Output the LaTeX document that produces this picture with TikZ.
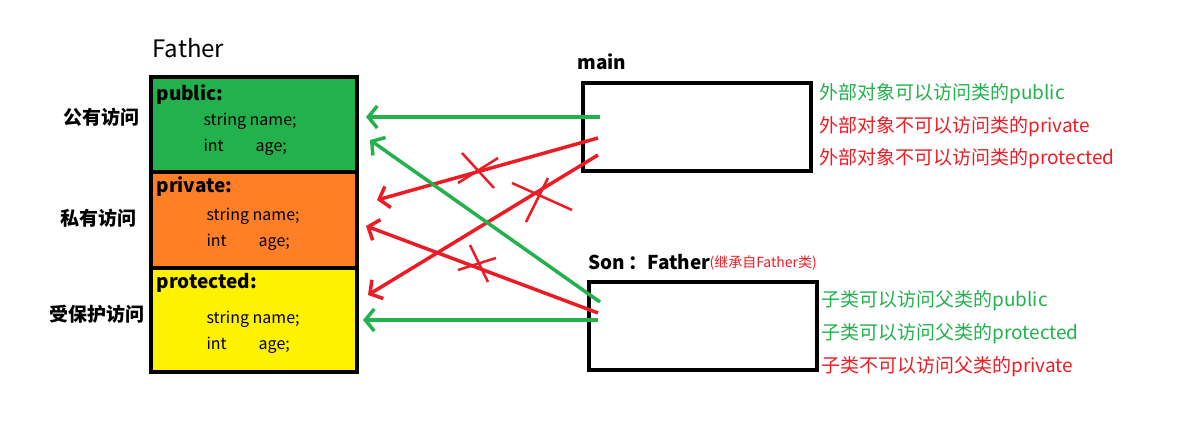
\documentclass[tikz,border=0pt]{standalone}
\usepackage{fontspec}
\setmainfont{Noto Sans CJK SC}
\usetikzlibrary{arrows.meta}
\definecolor{gr}{HTML}{22B14C}
\definecolor{rd}{HTML}{ED1C24}
\definecolor{og}{HTML}{FF7F27}
\definecolor{yl}{HTML}{FFF200}
\begin{document}
\begin{tikzpicture}[x=1pt,y=-1pt,
  arr/.style={line width=3.5pt,-{Straight Barb[length=9pt,width=22pt,line width=3.5pt]}},
  xs/.style={line width=2.5pt,rd},
  sec/.style={draw,line width=3.5pt,anchor=north west,inner sep=0pt},
  lbl/.style={font=\bfseries\fontsize{19}{21}\selectfont},
  rt/.style={anchor=west,font=\fontsize{19}{21}\selectfont},
  cd/.style={anchor=west,font=\fontsize{16}{18}\selectfont}]
\useasboundingbox (0,0) rectangle (1185,426);
\node[sec,fill=gr,minimum width=206pt,minimum height=95pt] (pub) at (149,75) {};
\node[sec,fill=og,minimum width=206pt,minimum height=96pt] (pri) at (149,170) {};
\node[sec,fill=yl,minimum width=206pt,minimum height=104pt] (pro) at (149,266) {};
\node[anchor=west,font=\fontsize{24}{26}\selectfont] (fa) at (149,48) {Father};
\node[lbl,anchor=west] (t1) at (153,95) {public:};
\node[cd] (t2) at (200,121) {string name;};
\node[cd] (t3) at (200,147) {int\hspace{2em}age;};
\node[lbl,anchor=west] (t4) at (153,187) {private:};
\node[cd] (t5) at (203,216) {string name;};
\node[cd] (t6) at (203,242) {int\hspace{2em}age;};
\node[lbl,anchor=west] (t7) at (153,283) {protected:};
\node[cd] (t8) at (203,319) {string name;};
\node[cd] (t9) at (203,345) {int\hspace{2em}age;};
\node[lbl] (l1) at (101,117) {公有访问};
\node[lbl] (l2) at (98,218) {私有访问};
\node[lbl] (l3) at (97,314) {受保护访问};
\node[draw,line width=3.5pt,minimum width=228pt,minimum height=88pt,anchor=north west] (main) at (581,81) {};
\node[lbl,anchor=west] (mt) at (574,62) {main};
\node[draw,line width=3.5pt,minimum width=228pt,minimum height=88pt,anchor=north west] (son) at (587,280) {};
\node[lbl,anchor=west] (st) at (585,262) {Son\,：Father};
\node[anchor=west,rd,font=\fontsize{14}{16}\selectfont] (st2) at (706,263) {(继承自Father类)};
\node[rt,gr] (r1) at (816,94) {外部对象可以访问类的public};
\node[rt,rd] (r2) at (816,127) {外部对象不可以访问类的private};
\node[rt,rd] (r3) at (816,159) {外部对象不可以访问类的protected};
\node[rt,gr] (r4) at (818,301) {子类可以访问父类的public};
\node[rt,gr] (r5) at (818,334) {子类可以访问父类的protected};
\node[rt,rd] (r6) at (818,367) {子类不可以访问父类的private};
\coordinate (a1s) at (600,117); \coordinate (a1e) at (366,117);
\coordinate (a2s) at (598,138); \coordinate (a2e) at (377,200);
\coordinate (a3s) at (598,155); \coordinate (a3e) at (368,295);
\coordinate (a4s) at (600,302); \coordinate (a4e) at (370,140);
\coordinate (a5s) at (598,313); \coordinate (a5e) at (366,226);
\coordinate (a6s) at (598,320); \coordinate (a6e) at (363,320);
\draw[arr,gr] (a1s) -- (a1e);
\draw[arr,rd] (a2s) -- (a2e);
\draw[arr,rd] (a3s) -- (a3e);
\draw[arr,gr] (a4s) -- (a4e);
\draw[arr,rd] (a5s) -- (a5e);
\draw[arr,gr] (a6s) -- (a6e);
\draw[xs] (462,153) -- (494,188);
\draw[xs] (458,183) -- (498,158);
\draw[xs] (512,183) -- (572,210);
\draw[xs] (548,178) -- (526,222);
\draw[xs] (470,245) -- (488,282);
\draw[xs] (458,270) -- (496,258);
\end{tikzpicture}
\end{document}
